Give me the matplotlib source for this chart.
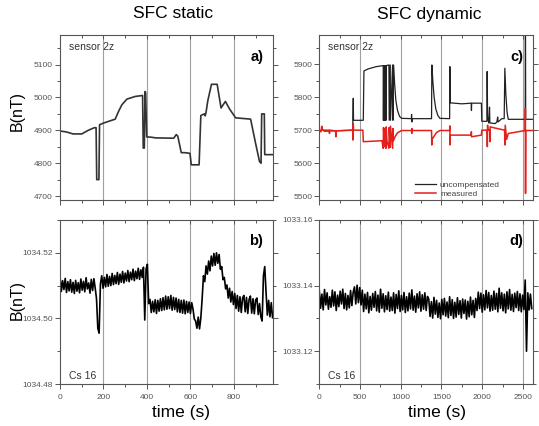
import numpy as np
import matplotlib.pyplot as plt
from matplotlib.ticker import MultipleLocator

plt.rcParams['font.family'] = ['Liberation Sans', 'DejaVu Sans']

# panel a) sensor 2z, SFC static (breakpoints read off the picture)
a_t = [0, 30, 60, 100, 130, 158, 166, 169, 179, 182, 200, 254, 269, 285, 308, 346, 380,
       383, 388, 391, 394, 399, 420, 440, 523, 535, 542, 558, 575, 598, 604, 640, 648,
       664, 668, 672, 680, 697, 723, 733, 741, 761, 780, 808, 877, 900, 918, 925, 928,
       940, 942, 980]
a_b = [4898, 4895, 4889, 4889, 4900, 4908, 4908, 4750, 4750, 4917, 4922, 4934, 4957, 4978,
       4995, 5003, 5006, 4846, 4846, 5018, 5015, 4880, 4879, 4877, 4876, 4887, 4882, 4832,
       4832, 4830, 4795, 4795, 4945, 4950, 4944, 4955, 4990, 5040, 5040, 5000, 4968, 4988,
       4965, 4938, 4934, 4860, 4805, 4800, 4950, 4950, 4826, 4826]

# panel b) Cs 16, SFC static, sampled every 6 s, offsets from 1034.50 in 1e-4 nT
b_step = 6
b_off = [128, 82, 115, 88, 122, 79, 112, 84, 118, 80, 110, 76, 116, 83, 109, 78, 120, 86,
         113, 81, 124, 90, 108, 77, 119, 85, 121, 92,
         60, -30, -45, 105,
         130, 92, 125, 96, 134, 98, 128, 100, 137, 103, 131, 106, 140, 104, 135, 110, 143,
         108, 138, 114, 146, 112, 141, 118, 150, 115, 144, 121, 153, 119, 148, 125, 156,
         -5, 150, 165, 45,
         58, 18, 52, 20, 57, 15, 55, 22, 60, 24, 63, 26, 68, 28, 66, 30, 70, 25, 64, 27, 62,
         20, 58, 18, 55, 16, 56, 14, 52, 18, 50, 15, 48,
         28, -2, -8, -30, 4, -32, 2, 60,
         130, 112, 160, 135, 175, 145, 190, 160, 198, 162, 200, 168, 195, 150, 158, 118, 125,
         90, 102, 62, 92, 50, 82, 42, 76, 30, 70, 22, 66, 18, 62, 70, 20, 64, 15, 58, 68, 16,
         60, 14, 56, 62, 12, 45, 5, -8, 130, 158, 80, 10, 55, 5, 48, 2]

# panel c) sensor 2z, SFC dynamic
c_t_unc = [0, 40, 60, 410, 417, 420, 540, 548, 600, 700, 785, 787, 790, 800, 803, 810, 813,
           818, 821, 855, 858, 871, 874, 900, 904, 912, 925, 940, 960, 985, 1010, 1130, 1133,
           1136, 1140, 1378, 1382, 1395, 1410, 1430, 1455, 1480, 1600, 1603, 1608, 1750, 1865,
           1868, 1871, 1990, 1995, 2058, 2061, 2066, 2080, 2090, 2094, 2160, 2180, 2190, 2195,
           2240, 2270, 2278, 2290, 2305, 2320, 2528, 2531, 2534, 2615]
c_unc = [5697, 5702, 5697, 5700, 5797, 5730, 5730, 5880, 5886, 5893, 5896, 5730, 5896, 5730,
         5896, 5730, 5896, 5730, 5896, 5898, 5730, 5898, 5730, 5898, 5730, 5898, 5840, 5790,
         5760, 5742, 5736, 5735, 5748, 5725, 5735, 5735, 5898, 5845, 5800, 5765, 5745, 5736,
         5735, 5893, 5783, 5780, 5782, 5760, 5782, 5782, 5727, 5727, 5878, 5740, 5722, 5770,
         5722, 5720, 5725, 5740, 5725, 5735, 5735, 5888, 5810, 5755, 5733, 5733, 6100, 5733,
         5733]
c_t_meas = [0, 20, 30, 40, 120, 125, 130, 200, 203, 206, 410, 413, 417, 420, 535, 540, 770,
            785, 788, 800, 803, 818, 821, 830, 855, 858, 871, 874, 900, 904, 910, 930, 960,
            1010, 1133, 1135, 1137, 1140, 1378, 1381, 1384, 1410, 1440, 1480, 1600, 1603,
            1606, 1608, 1865, 1867, 1869, 1990, 1995, 2060, 2063, 2066, 2070, 2092, 2094,
            2097, 2275, 2278, 2283, 2300, 2320, 2528, 2530, 2532, 2535, 2615]
c_meas = [5700, 5695, 5712, 5700, 5700, 5690, 5700, 5698, 5680, 5698, 5700, 5670, 5720, 5700,
          5700, 5665, 5668, 5645, 5708, 5650, 5705, 5645, 5710, 5668, 5645, 5708, 5648, 5712,
          5645, 5705, 5668, 5680, 5692, 5699, 5699, 5690, 5705, 5699, 5699, 5655, 5672, 5682,
          5693, 5699, 5699, 5713, 5655, 5685, 5685, 5695, 5680, 5685, 5700, 5700, 5650, 5715,
          5700, 5700, 5665, 5710, 5700, 5655, 5715, 5672, 5690, 5699, 5766, 5508, 5699, 5699]

# panel d) Cs 16, SFC dynamic, sampled every 16 s, offsets from 1033.13 in 1e-4 nT
d_step = 16
d_off = [84, 31, 74, 26, 88, 41, 78, 28, 66, 34, 86, 38, 81, 24, 71, 36, 83, 44, 89, 30, 76,
         26, 70, 32, 85, 39, 80,
         96, 44, 101, 48, 94, 41, 86,
         21, 74, 29, 79, 17, 67, 25, 76, 34, 82, 23, 71, 19, 89, 31, 75, 20, 69, 27, 80, 22,
         65, 24, 78, 16, 73, 30, 84, 21, 70, 26, 79, 18, 66, 23, 77, 29, 87, 25, 68, 19, 75,
         32, 81, 22, 72, 28, 78, 24, 67,
         59, 6, 51, 1, 64, 13, 55, 3, 47, -1, 58, 11, 61, 7, 50, 2, 66, 9, 57, 0, 49, 4, 63,
         12, 54, 1, 59, 15, 56, -2, 52, 5, 65, 11, 55, 3, 61,
         24, 80, 30, 77, 19, 72, 26, 85, 32, 79, 22, 70, 25, 83, 28, 76, 20, 92, 31, 78, 23,
         74, 17, 81, 29, 88, 25, 73, 21, 77, 33, 82, 24, 75, 20, 71, 27,
         117, -100, 78, 26, 74, 30]

b_t = np.arange(len(b_off)) * b_step
b_val = 1034.50 + np.array(b_off) * 1e-4
d_t = np.arange(len(d_off)) * d_step
d_val = 1033.13 + np.array(d_off) * 1e-4

fig = plt.figure(figsize=(5.39, 4.26), dpi=100)
W, H = 539, 426


def make_ax(x0, y0, x1, y1):
    return fig.add_axes([x0 / W, 1 - y1 / H, (x1 - x0) / W, (y1 - y0) / H])


ax_a = make_ax(60, 35, 273, 200)
ax_b = make_ax(60, 220, 273, 384)
ax_c = make_ax(319.3, 35, 532.7, 200)
ax_d = make_ax(319.3, 220, 532.7, 384)

grid_col = '#a0a0a0'
tick_col = '#555555'

for ax in (ax_a, ax_b, ax_c, ax_d):
    for s in ax.spines.values():
        s.set_color('#555555')
        s.set_linewidth(0.8)
    ax.tick_params(axis='both', which='both', colors='#555555', labelsize=6,
                   labelcolor=tick_col, width=0.7)
    ax.tick_params(axis='both', which='major', length=3.5)
    ax.tick_params(axis='both', which='minor', length=2)
    ax.tick_params(axis='y', which='both', right=True)
    ax.tick_params(axis='y', which='both', direction='out', pad=1.5)

for ax in (ax_a, ax_b):
    ax.set_xlim(0, 980)
    ax.xaxis.set_major_locator(MultipleLocator(200))
    ax.xaxis.set_minor_locator(MultipleLocator(100))
    for g in (200, 400, 600, 800):
        ax.axvline(g, color=grid_col, lw=0.8, zorder=0)

for ax in (ax_c, ax_d):
    ax.set_xlim(0, 2620)
    ax.xaxis.set_major_locator(MultipleLocator(500))
    ax.xaxis.set_minor_locator(MultipleLocator(250))
    for g in (500, 1000, 1500, 2000, 2500):
        ax.axvline(g, color=grid_col, lw=0.8, zorder=0)

# inward ticks along the top edge
for ax in (ax_a, ax_b, ax_c, ax_d):
    top = ax.secondary_xaxis('top')
    top.xaxis.set_major_locator(ax.xaxis.get_major_locator())
    top.xaxis.set_minor_locator(ax.xaxis.get_minor_locator())
    top.tick_params(axis='x', which='both', direction='in', labeltop=False,
                    colors='#555555', width=0.7)
    top.tick_params(axis='x', which='major', length=3)
    top.tick_params(axis='x', which='minor', length=2)
    top.spines['top'].set_visible(False)

for ax in (ax_a, ax_c):
    ax.tick_params(axis='x', labelbottom=False)
    ax.text(0.04, 0.925, 'sensor 2z', transform=ax.transAxes, fontsize=7.5,
            color='#333333', va='center')

for ax in (ax_b, ax_d):
    ax.text(0.04, 0.02, 'Cs 16', transform=ax.transAxes, fontsize=7.5,
            color='#333333', va='bottom')

# a)
ax_a.plot(a_t, a_b, color='#333333', lw=1.2)
ax_a.set_ylim(4688, 5190)
ax_a.yaxis.set_major_locator(MultipleLocator(100))
ax_a.yaxis.set_minor_locator(MultipleLocator(50))
ax_a.text(0.955, 0.865, 'a)', transform=ax_a.transAxes, fontsize=10.5,
          fontweight='bold', ha='right', va='center')

# b)
ax_b.plot(b_t, b_val, color='black', lw=1.2)
ax_b.set_ylim(1034.48, 1034.53)
ax_b.yaxis.set_major_locator(MultipleLocator(0.02))
ax_b.yaxis.set_minor_locator(MultipleLocator(0.01))
ax_b.yaxis.set_major_formatter(plt.FormatStrFormatter('%.2f'))
ax_b.text(0.955, 0.875, 'b)', transform=ax_b.transAxes, fontsize=10.5,
          fontweight='bold', ha='right', va='center')

# c)
ax_c.plot(c_t_unc, c_unc, color='#222222', lw=0.9, label='uncompensated')
ax_c.plot(c_t_meas, c_meas, color='#e3201b', lw=1.1, label='measured')
ax_c.set_ylim(5488, 5989)
ax_c.yaxis.set_major_locator(MultipleLocator(100))
ax_c.yaxis.set_minor_locator(MultipleLocator(50))
ax_c.text(0.955, 0.865, 'c)', transform=ax_c.transAxes, fontsize=10.5,
          fontweight='bold', ha='right', va='center')
leg = ax_c.legend(loc='lower right', bbox_to_anchor=(0.87, -0.02), frameon=False,
                  fontsize=6, handlelength=2.5, handletextpad=0.5, labelspacing=0.15,
                  borderaxespad=0.2)
for t in leg.get_texts():
    t.set_color('#444444')

# d)
ax_d.plot(d_t, d_val, color='black', lw=1.2)
ax_d.set_ylim(1033.11, 1033.16)
ax_d.yaxis.set_major_locator(MultipleLocator(0.02))
ax_d.yaxis.set_minor_locator(MultipleLocator(0.01))
ax_d.yaxis.set_major_formatter(plt.FormatStrFormatter('%.2f'))
ax_d.text(0.955, 0.875, 'd)', transform=ax_d.transAxes, fontsize=10.5,
          fontweight='bold', ha='right', va='center')

fig.text(173 / W, 1 - 14 / H, 'SFC static', fontsize=12.5, ha='center', va='center')
fig.text(429 / W, 1 - 14 / H, 'SFC dynamic', fontsize=12.5, ha='center', va='center')
fig.text(17 / W, 1 - 111 / H, 'B(nT)', fontsize=11.5, rotation=90, ha='center', va='center')
fig.text(17 / W, 1 - 300 / H, 'B(nT)', fontsize=11.5, rotation=90, ha='center', va='center')
fig.text(181 / W, 1 - 412 / H, 'time (s)', fontsize=12.5, ha='center', va='center')
fig.text(437 / W, 1 - 412 / H, 'time (s)', fontsize=12.5, ha='center', va='center')

fig.savefig('out.png', dpi=100)
